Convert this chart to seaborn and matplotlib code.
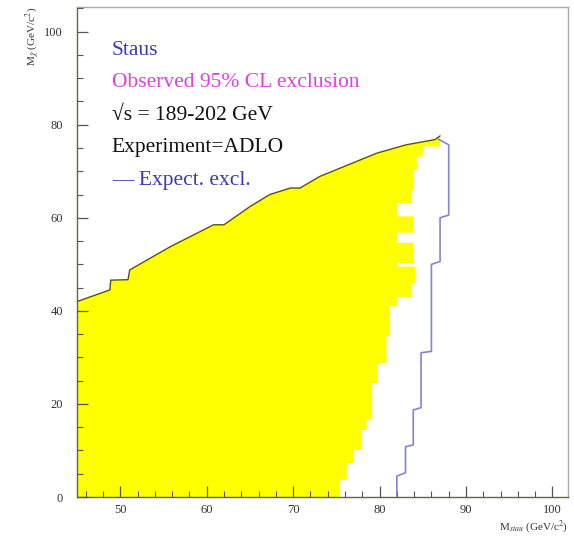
import matplotlib

matplotlib.use("Agg")
import matplotlib.pyplot as plt
import seaborn as sns
from matplotlib.ticker import MultipleLocator

# observed exclusion: upper edge of the excluded region (M_stau, M_chi)
obs_x = [45.0, 48.8, 48.9, 50.9, 51.1, 55.8, 60.8, 62.0, 65.0, 67.3, 69.7, 70.8, 73.1, 79.7, 83.1, 86.4, 87.0]
obs_y = [42.0, 44.5, 46.6, 46.7, 48.8, 53.8, 58.5, 58.5, 62.4, 65.0, 66.4, 66.4, 68.9, 73.9, 75.7, 76.8, 77.6]

# observed exclusion: jagged right edge, read from top to bottom
edge_y = [78.6, 75.3, 73.2, 70.3, 66.0, 63.2, 60.3, 56.8, 54.6, 50.3, 49.5, 46.0, 43.0,
          41.0, 34.5, 28.8, 24.5, 16.6, 14.4, 10.1, 7.3, 3.7, 0.0]
edge_x = [87.0, 85.0, 84.3, 83.9, 83.7, 82.0, 83.9, 82.0, 83.9, 82.1, 84.1, 83.7, 82.0,
          81.2, 80.8, 79.7, 79.1, 78.5, 77.9, 77.0, 76.2, 75.4, 74.9]

# expected exclusion contour
exp_x = [82.0, 82.0, 83.0, 83.0, 83.9, 83.9, 84.8, 84.8, 86.0, 86.0, 87.0, 87.0, 88.0, 88.0, 86.8]
exp_y = [0.0, 4.5, 5.2, 10.8, 11.2, 18.7, 19.2, 31.0, 31.3, 50.0, 50.6, 60.0, 60.6, 75.7, 76.9]

legend_lines = ["Staus", "Observed 95% CL exclusion", "\u221As = 189-202 GeV", "Experiment=ADLO", "\u2014 Expect. excl."]
legend_colors = ["#3a3ab4", "#e040e0", "#111111", "#111111", "#3a3ab4"]

sns.set_theme(style="ticks")
plt.rcParams["font.family"] = ["Liberation Serif", "DejaVu Serif"]
plt.rcParams["mathtext.fontset"] = "stix"

fig = plt.figure(figsize=(5.74, 5.37), dpi=100)
ax = fig.add_axes([77 / 574, 40 / 537, 491 / 574, 490 / 537])
ax.set_axisbelow(False)

# build the excluded polygon: left edge, upper edge, stepped right edge
step_x, step_y = [], []
for i in range(len(edge_y)):
    step_x.append(edge_x[i])
    step_y.append(edge_y[i])
    if i + 1 < len(edge_y):
        step_x.append(edge_x[i])
        step_y.append(edge_y[i + 1])
poly_x = [obs_x[0]] + obs_x + step_x + [obs_x[0]]
poly_y = [0.0] + obs_y + step_y + [0.0]
ax.fill(poly_x, poly_y, color="#ffff00", lw=0, zorder=1)

sns.lineplot(x=obs_x, y=obs_y, sort=False, estimator=None, color="#55551a", lw=1.0, ax=ax, zorder=3)
sns.lineplot(x=exp_x, y=exp_y, sort=False, estimator=None, color="#8484d4", lw=1.2, ax=ax, zorder=3)

ax.set_xlim(45, 101.8)
ax.set_ylim(0, 105.3)
ax.xaxis.set_major_locator(MultipleLocator(10))
ax.xaxis.set_minor_locator(MultipleLocator(2))
ax.yaxis.set_major_locator(MultipleLocator(20))
ax.yaxis.set_minor_locator(MultipleLocator(5))
ax.tick_params(which="both", direction="in", top=False, right=False, colors="#555555",
               labelcolor="#333333", labelsize=9)
ax.tick_params(which="major", length=8, width=0.9)
ax.tick_params(which="minor", length=4, width=0.8)
ax.tick_params(axis="y", which="major", pad=10)
ax.tick_params(axis="x", which="major", pad=5)
for side in ["left", "bottom"]:
    ax.spines[side].set_color("#666633")
    ax.spines[side].set_linewidth(1.0)
for side in ["top", "right"]:
    ax.spines[side].set_color("#aaaaaa")
    ax.spines[side].set_linewidth(1.0)

ax.set_xlabel(r"M$_{stau}$ (GeV/c$^{2}$)", loc="right", fontsize=8, color="#333333", labelpad=2)
ax.set_ylabel(r"M$_{\tilde{\chi}}$ (GeV/c$^{2}$)", loc="top", fontsize=8, color="#333333", labelpad=1)

baselines = [0.902, 0.837, 0.769, 0.704, 0.637]
for text, color, yb in zip(legend_lines, legend_colors, baselines):
    ax.text(0.071, yb, text, transform=ax.transAxes, color=color, fontsize=15.5,
            va="baseline", ha="left", zorder=4)

fig.savefig("out.png", dpi=100)
